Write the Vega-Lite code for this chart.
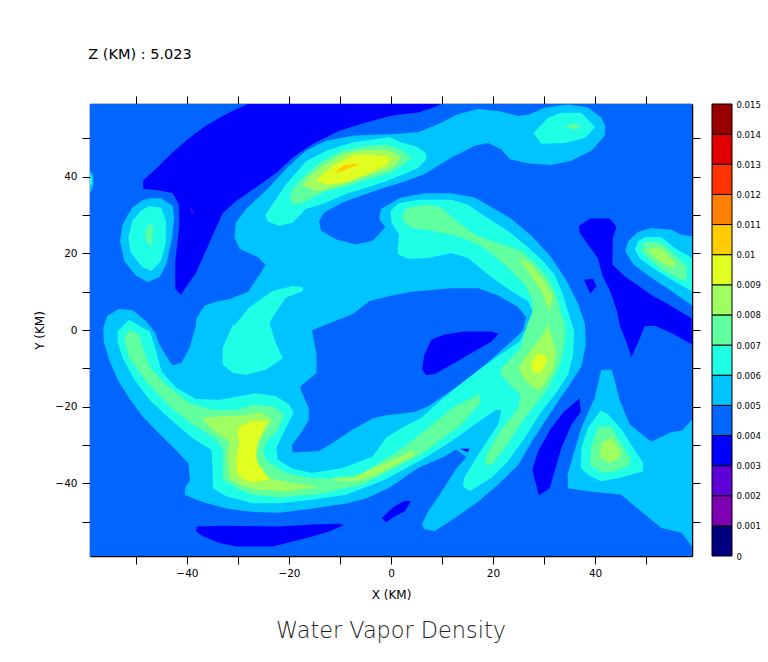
{"$schema":"https://vega.github.io/schema/vega-lite/v6.json","autosize":"none","padding":{"left":90,"top":104,"right":678,"bottom":558},"background":"white","bounds":"flush","spacing":20,"config":{"view":{"stroke":null},"font":"DejaVu Sans"},"hconcat":[{"width":602,"height":452,"resolve":{"axis":{"x":"independent","y":"independent"}},"layer":[{"data":{"values":[
{"poly":"bg","level":0.004,"x":-59,"y":-59},{"poly":"bg","level":0.004,"x":59,"y":-59},{"poly":"bg","level":0.004,"x":59,"y":59},{"poly":"bg","level":0.004,"x":-59,"y":59},
{"poly":"edge5","level":0.005,"x":-59,"y":41.6},{"poly":"edge5","level":0.005,"x":-58.4,"y":40.5},{"poly":"edge5","level":0.005,"x":-58.3,"y":38},{"poly":"edge5","level":0.005,"x":-59,"y":35.6},
{"poly":"big5","level":0.005,"x":-24.6,"y":17},{"poly":"big5","level":0.005,"x":-26.1,"y":19},{"poly":"big5","level":0.005,"x":-29.7,"y":21.2},{"poly":"big5","level":0.005,"x":-30.7,"y":24.2},{"poly":"big5","level":0.005,"x":-30.4,"y":28.1},{"poly":"big5","level":0.005,"x":-28.4,"y":31.6},{"poly":"big5","level":0.005,"x":-24.5,"y":36.4},{"poly":"big5","level":0.005,"x":-20.6,"y":42},{"poly":"big5","level":0.005,"x":-16.7,"y":46.8},{"poly":"big5","level":0.005,"x":-12.7,"y":49.4},{"poly":"big5","level":0.005,"x":-7.5,"y":50.7},{"poly":"big5","level":0.005,"x":-3.6,"y":51},{"poly":"big5","level":0.005,"x":-0.3,"y":51.1},{"poly":"big5","level":0.005,"x":5.3,"y":51.6},{"poly":"big5","level":0.005,"x":9.2,"y":53.7},{"poly":"big5","level":0.005,"x":13.1,"y":56.3},{"poly":"big5","level":0.005,"x":17.1,"y":57.7},{"poly":"big5","level":0.005,"x":21,"y":57.2},{"poly":"big5","level":0.005,"x":24.9,"y":55.9},{"poly":"big5","level":0.005,"x":26.9,"y":56.2},{"poly":"big5","level":0.005,"x":30.1,"y":58},{"poly":"big5","level":0.005,"x":34.7,"y":58.9},{"poly":"big5","level":0.005,"x":38.6,"y":58.1},{"poly":"big5","level":0.005,"x":41.2,"y":55.5},{"poly":"big5","level":0.005,"x":42,"y":53.3},{"poly":"big5","level":0.005,"x":41.9,"y":50.7},{"poly":"big5","level":0.005,"x":39.3,"y":46.8},{"poly":"big5","level":0.005,"x":35.3,"y":44.2},{"poly":"big5","level":0.005,"x":31.4,"y":43.1},{"poly":"big5","level":0.005,"x":26.8,"y":43.5},{"poly":"big5","level":0.005,"x":23.3,"y":44.6},{"poly":"big5","level":0.005,"x":21.6,"y":47.2},{"poly":"big5","level":0.005,"x":19,"y":48.8},{"poly":"big5","level":0.005,"x":16.4,"y":48.1},{"poly":"big5","level":0.005,"x":11.8,"y":45},{"poly":"big5","level":0.005,"x":6.6,"y":40.7},{"poly":"big5","level":0.005,"x":2.7,"y":38.8},{"poly":"big5","level":0.005,"x":-1.2,"y":37.2},{"poly":"big5","level":0.005,"x":-4.9,"y":35.5},{"poly":"big5","level":0.005,"x":-9.5,"y":33.3},{"poly":"big5","level":0.005,"x":-13.1,"y":30.7},{"poly":"big5","level":0.005,"x":-14.1,"y":28.5},{"poly":"big5","level":0.005,"x":-13.7,"y":25.9},{"poly":"big5","level":0.005,"x":-10.8,"y":23.7},{"poly":"big5","level":0.005,"x":-6.9,"y":22.3},{"poly":"big5","level":0.005,"x":-3.6,"y":23.3},{"poly":"big5","level":0.005,"x":-1.1,"y":26.8},{"poly":"big5","level":0.005,"x":-2.3,"y":29},{"poly":"big5","level":0.005,"x":-2,"y":31.6},{"poly":"big5","level":0.005,"x":-0.3,"y":32.9},{"poly":"big5","level":0.005,"x":2,"y":34.6},{"poly":"big5","level":0.005,"x":6.6,"y":35.7},{"poly":"big5","level":0.005,"x":11.8,"y":35.7},{"poly":"big5","level":0.005,"x":16.4,"y":34.6},{"poly":"big5","level":0.005,"x":20.3,"y":31.6},{"poly":"big5","level":0.005,"x":23.6,"y":29},{"poly":"big5","level":0.005,"x":27.5,"y":24.6},{"poly":"big5","level":0.005,"x":31.4,"y":19},{"poly":"big5","level":0.005,"x":34.4,"y":12.9},{"poly":"big5","level":0.005,"x":36.7,"y":6.8},{"poly":"big5","level":0.005,"x":38,"y":1.6},{"poly":"big5","level":0.005,"x":38.2,"y":-3.8},{"poly":"big5","level":0.005,"x":37.3,"y":-9.6},{"poly":"big5","level":0.005,"x":35,"y":-14.3},{"poly":"big5","level":0.005,"x":32.7,"y":-18.7},{"poly":"big5","level":0.005,"x":30.1,"y":-24},{"poly":"big5","level":0.005,"x":27.5,"y":-29.3},{"poly":"big5","level":0.005,"x":25,"y":-35.1},{"poly":"big5","level":0.005,"x":21,"y":-40.4},{"poly":"big5","level":0.005,"x":17.1,"y":-44.8},{"poly":"big5","level":0.005,"x":12.8,"y":-48.8},{"poly":"big5","level":0.005,"x":8.6,"y":-52.5},{"poly":"big5","level":0.005,"x":6.6,"y":-52},{"poly":"big5","level":0.005,"x":6,"y":-50.8},{"poly":"big5","level":0.005,"x":7.3,"y":-47.4},{"poly":"big5","level":0.005,"x":9.9,"y":-42.2},{"poly":"big5","level":0.005,"x":12.9,"y":-36},{"poly":"big5","level":0.005,"x":14.8,"y":-33.2},{"poly":"big5","level":0.005,"x":12.8,"y":-31.2},{"poly":"big5","level":0.005,"x":10.5,"y":-33},{"poly":"big5","level":0.005,"x":5.3,"y":-36},{"poly":"big5","level":0.005,"x":-0.3,"y":-41.2},{"poly":"big5","level":0.005,"x":-4.9,"y":-44},{"poly":"big5","level":0.005,"x":-8.8,"y":-45.3},{"poly":"big5","level":0.005,"x":-15.3,"y":-46.6},{"poly":"big5","level":0.005,"x":-21.8,"y":-47.7},{"poly":"big5","level":0.005,"x":-27,"y":-47.5},{"poly":"big5","level":0.005,"x":-32.3,"y":-46.6},{"poly":"big5","level":0.005,"x":-36.9,"y":-44.9},{"poly":"big5","level":0.005,"x":-40.4,"y":-43.1},{"poly":"big5","level":0.005,"x":-40.3,"y":-41},{"poly":"big5","level":0.005,"x":-39.4,"y":-39.2},{"poly":"big5","level":0.005,"x":-39.7,"y":-34.9},{"poly":"big5","level":0.005,"x":-42.1,"y":-31.4},{"poly":"big5","level":0.005,"x":-45.4,"y":-27.1},{"poly":"big5","level":0.005,"x":-48.6,"y":-22.7},{"poly":"big5","level":0.005,"x":-51.2,"y":-18},{"poly":"big5","level":0.005,"x":-53.5,"y":-13.2},{"poly":"big5","level":0.005,"x":-55.1,"y":-8.3},{"poly":"big5","level":0.005,"x":-56.3,"y":-3.1},{"poly":"big5","level":0.005,"x":-56.4,"y":0.6},{"poly":"big5","level":0.005,"x":-55.6,"y":3.7},{"poly":"big5","level":0.005,"x":-53.3,"y":5.5},{"poly":"big5","level":0.005,"x":-50.7,"y":5.2},{"poly":"big5","level":0.005,"x":-48,"y":2.3},{"poly":"big5","level":0.005,"x":-46.2,"y":-0.7},{"poly":"big5","level":0.005,"x":-45.4,"y":-3.8},{"poly":"big5","level":0.005,"x":-43.4,"y":-8.2},{"poly":"big5","level":0.005,"x":-42.8,"y":-9.2},{"poly":"big5","level":0.005,"x":-41.1,"y":-8.6},{"poly":"big5","level":0.005,"x":-39.5,"y":-4.7},{"poly":"big5","level":0.005,"x":-38.2,"y":1.4},{"poly":"big5","level":0.005,"x":-38.2,"y":2.9},{"poly":"big5","level":0.005,"x":-36.6,"y":6.3},{"poly":"big5","level":0.005,"x":-34.3,"y":7.4},{"poly":"big5","level":0.005,"x":-31.7,"y":8},{"poly":"big5","level":0.005,"x":-28,"y":10},{"poly":"big5","level":0.005,"x":-25.5,"y":15},
{"poly":"hole4","level":0.004,"x":-15.4,"y":0},{"poly":"hole4","level":0.004,"x":-7.5,"y":4.2},{"poly":"hole4","level":0.004,"x":-4.2,"y":7.6},{"poly":"hole4","level":0.004,"x":-0.3,"y":8.9},{"poly":"hole4","level":0.004,"x":4,"y":10},{"poly":"hole4","level":0.004,"x":11.8,"y":10.9},{"poly":"hole4","level":0.004,"x":17.1,"y":10.9},{"poly":"hole4","level":0.004,"x":21,"y":9},{"poly":"hole4","level":0.004,"x":24.9,"y":6},{"poly":"hole4","level":0.004,"x":26.5,"y":3.3},{"poly":"hole4","level":0.004,"x":25.8,"y":-0.3},{"poly":"hole4","level":0.004,"x":23.6,"y":-3},{"poly":"hole4","level":0.004,"x":17.7,"y":-10},{"poly":"hole4","level":0.004,"x":12.5,"y":-15.2},{"poly":"hole4","level":0.004,"x":7.2,"y":-20},{"poly":"hole4","level":0.004,"x":4.6,"y":-21.4},{"poly":"hole4","level":0.004,"x":-1.2,"y":-22.3},{"poly":"hole4","level":0.004,"x":-3.6,"y":-23.1},{"poly":"hole4","level":0.004,"x":-7.5,"y":-26},{"poly":"hole4","level":0.004,"x":-12.1,"y":-30},{"poly":"hole4","level":0.004,"x":-14.1,"y":-31.6},{"poly":"hole4","level":0.004,"x":-19.3,"y":-32},{"poly":"hole4","level":0.004,"x":-19.4,"y":-30},{"poly":"hole4","level":0.004,"x":-17.7,"y":-27},{"poly":"hole4","level":0.004,"x":-16.1,"y":-23.4},{"poly":"hole4","level":0.004,"x":-16.1,"y":-20.4},{"poly":"hole4","level":0.004,"x":-17.7,"y":-15.6},{"poly":"hole4","level":0.004,"x":-17.7,"y":-14.7},{"poly":"hole4","level":0.004,"x":-14.6,"y":-11.2},{"poly":"hole4","level":0.004,"x":-14.6,"y":-6.4},{"poly":"hole4","level":0.004,"x":-15.4,"y":-0.8},
{"poly":"d1","level":0.003,"x":-28.1,"y":59},{"poly":"d1","level":0.003,"x":9.9,"y":59},{"poly":"d1","level":0.003,"x":8.6,"y":58.2},{"poly":"d1","level":0.003,"x":5.3,"y":56.8},{"poly":"d1","level":0.003,"x":1.4,"y":56.2},{"poly":"d1","level":0.003,"x":-0.3,"y":55.8},{"poly":"d1","level":0.003,"x":-4.9,"y":54.2},{"poly":"d1","level":0.003,"x":-10.1,"y":52},{"poly":"d1","level":0.003,"x":-15.4,"y":48.5},{"poly":"d1","level":0.003,"x":-19.3,"y":45},{"poly":"d1","level":0.003,"x":-22.5,"y":41},{"poly":"d1","level":0.003,"x":-26.5,"y":37.2},{"poly":"d1","level":0.003,"x":-30.4,"y":33.6},{"poly":"d1","level":0.003,"x":-33,"y":30.5},{"poly":"d1","level":0.003,"x":-34.6,"y":25.7},{"poly":"d1","level":0.003,"x":-36.6,"y":19.8},{"poly":"d1","level":0.003,"x":-38.2,"y":15},{"poly":"d1","level":0.003,"x":-41.2,"y":9.2},{"poly":"d1","level":0.003,"x":-42.3,"y":10.7},{"poly":"d1","level":0.003,"x":-42.3,"y":18},{"poly":"d1","level":0.003,"x":-41.5,"y":26.9},{"poly":"d1","level":0.003,"x":-41.6,"y":32.9},{"poly":"d1","level":0.003,"x":-42.8,"y":35.7},{"poly":"d1","level":0.003,"x":-45.4,"y":36.4},{"poly":"d1","level":0.003,"x":-48.6,"y":36.9},{"poly":"d1","level":0.003,"x":-48.6,"y":39},{"poly":"d1","level":0.003,"x":-46.1,"y":42},{"poly":"d1","level":0.003,"x":-43.1,"y":46},{"poly":"d1","level":0.003,"x":-39.5,"y":50.2},{"poly":"d1","level":0.003,"x":-36.3,"y":53.3},{"poly":"d1","level":0.003,"x":-32.4,"y":56.3},
{"poly":"d2","level":0.003,"x":7.9,"y":-2.5},{"poly":"d2","level":0.003,"x":10.5,"y":-1.2},{"poly":"d2","level":0.003,"x":14.4,"y":-0.4},{"poly":"d2","level":0.003,"x":19.7,"y":-0.4},{"poly":"d2","level":0.003,"x":21.1,"y":-1},{"poly":"d2","level":0.003,"x":19.7,"y":-3},{"poly":"d2","level":0.003,"x":15.1,"y":-6.5},{"poly":"d2","level":0.003,"x":11.8,"y":-9.1},{"poly":"d2","level":0.003,"x":8.6,"y":-11.5},{"poly":"d2","level":0.003,"x":6.9,"y":-11.8},{"poly":"d2","level":0.003,"x":6.1,"y":-10.4},{"poly":"d2","level":0.003,"x":6.5,"y":-6.5},
{"poly":"d3","level":0.003,"x":-38.1,"y":-51.3},{"poly":"d3","level":0.003,"x":-33,"y":-51.1},{"poly":"d3","level":0.003,"x":-21.9,"y":-51.3},{"poly":"d3","level":0.003,"x":-15.4,"y":-50.8},{"poly":"d3","level":0.003,"x":-10.1,"y":-50.6},{"poly":"d3","level":0.003,"x":-9.2,"y":-50.9},{"poly":"d3","level":0.003,"x":-12.1,"y":-52.6},{"poly":"d3","level":0.003,"x":-15.4,"y":-53.9},{"poly":"d3","level":0.003,"x":-19.3,"y":-55.2},{"poly":"d3","level":0.003,"x":-23.1,"y":-56.5},{"poly":"d3","level":0.003,"x":-30.3,"y":-56.5},{"poly":"d3","level":0.003,"x":-33.6,"y":-55.6},{"poly":"d3","level":0.003,"x":-36.8,"y":-53.9},{"poly":"d3","level":0.003,"x":-38.2,"y":-52.6},
{"poly":"d4","level":0.003,"x":-1.8,"y":-49.1},{"poly":"d4","level":0.003,"x":-0.3,"y":-47.2},{"poly":"d4","level":0.003,"x":0.7,"y":-46},{"poly":"d4","level":0.003,"x":2.8,"y":-44.6},{"poly":"d4","level":0.003,"x":3.9,"y":-44.7},{"poly":"d4","level":0.003,"x":2.7,"y":-47.3},{"poly":"d4","level":0.003,"x":0.7,"y":-48.7},{"poly":"d4","level":0.003,"x":-0.9,"y":-50.1},{"poly":"d4","level":0.003,"x":-1,"y":-50.2},
{"poly":"d5","level":0.003,"x":37,"y":-17.8},{"poly":"d5","level":0.003,"x":37.2,"y":-21.4},{"poly":"d5","level":0.003,"x":35.4,"y":-24.7},{"poly":"d5","level":0.003,"x":33.4,"y":-30.8},{"poly":"d5","level":0.003,"x":31.1,"y":-41.3},{"poly":"d5","level":0.003,"x":29,"y":-43.2},{"poly":"d5","level":0.003,"x":27.7,"y":-36.5},{"poly":"d5","level":0.003,"x":28.8,"y":-31.7},{"poly":"d5","level":0.003,"x":31.4,"y":-25.6},{"poly":"d5","level":0.003,"x":34,"y":-21.2},
{"poly":"d6","level":0.003,"x":36.8,"y":27.1},{"poly":"d6","level":0.003,"x":39,"y":29.1},{"poly":"d6","level":0.003,"x":42.9,"y":29.1},{"poly":"d6","level":0.003,"x":44.2,"y":26.9},{"poly":"d6","level":0.003,"x":43.5,"y":24},{"poly":"d6","level":0.003,"x":43.4,"y":17.1},{"poly":"d6","level":0.003,"x":45.8,"y":14},{"poly":"d6","level":0.003,"x":51,"y":9.2},{"poly":"d6","level":0.003,"x":55,"y":6.2},{"poly":"d6","level":0.003,"x":58.9,"y":3.1},{"poly":"d6","level":0.003,"x":59,"y":-3.8},{"poly":"d6","level":0.003,"x":55,"y":-0.8},{"poly":"d6","level":0.003,"x":51.7,"y":1.1},{"poly":"d6","level":0.003,"x":49.7,"y":1},{"poly":"d6","level":0.003,"x":48.8,"y":-2.1},{"poly":"d6","level":0.003,"x":47.1,"y":-7.1},{"poly":"d6","level":0.003,"x":46.1,"y":-3},{"poly":"d6","level":0.003,"x":44.8,"y":1.4},{"poly":"d6","level":0.003,"x":44.3,"y":4.9},{"poly":"d6","level":0.003,"x":43,"y":10},{"poly":"d6","level":0.003,"x":41.4,"y":14.4},{"poly":"d6","level":0.003,"x":40.5,"y":18.8},{"poly":"d6","level":0.003,"x":38.6,"y":22.3},{"poly":"d6","level":0.003,"x":37,"y":25.3},
{"poly":"d7","level":0.003,"x":37.8,"y":13.1},{"poly":"d7","level":0.003,"x":39.6,"y":13.4},{"poly":"d7","level":0.003,"x":40.3,"y":11.4},{"poly":"d7","level":0.003,"x":39.1,"y":9.5},{"poly":"d7","level":0.003,"x":38.5,"y":11},
{"poly":"d8","level":0.003,"x":13.5,"y":-31},{"poly":"d8","level":0.003,"x":15.4,"y":-31},{"poly":"d8","level":0.003,"x":15,"y":-31.9},
{"poly":"p1","level":0.002,"x":-39.2,"y":32.2},{"poly":"p1","level":0.002,"x":-38.5,"y":30.6},{"poly":"p1","level":0.002,"x":-39.2,"y":30.5},
{"poly":"left5","level":0.005,"x":-47.1,"y":34.4},{"poly":"left5","level":0.005,"x":-45.1,"y":34.4},{"poly":"left5","level":0.005,"x":-42.8,"y":32.4},{"poly":"left5","level":0.005,"x":-42.5,"y":29.4},{"poly":"left5","level":0.005,"x":-42.9,"y":24.2},{"poly":"left5","level":0.005,"x":-44,"y":17.2},{"poly":"left5","level":0.005,"x":-45.4,"y":13.8},{"poly":"left5","level":0.005,"x":-47.7,"y":12.5},{"poly":"left5","level":0.005,"x":-50,"y":14.2},{"poly":"left5","level":0.005,"x":-52.3,"y":18},{"poly":"left5","level":0.005,"x":-53.1,"y":23.3},{"poly":"left5","level":0.005,"x":-52.6,"y":27.6},{"poly":"left5","level":0.005,"x":-50.7,"y":32},{"poly":"left5","level":0.005,"x":-48.7,"y":33.9},
{"poly":"ur5","level":0.005,"x":59,"y":24.5},{"poly":"ur5","level":0.005,"x":57,"y":24.8},{"poly":"ur5","level":0.005,"x":55,"y":26.2},{"poly":"ur5","level":0.005,"x":51,"y":26.6},{"poly":"ur5","level":0.005,"x":48.4,"y":25.6},{"poly":"ur5","level":0.005,"x":46.5,"y":23.2},{"poly":"ur5","level":0.005,"x":45.9,"y":20.6},{"poly":"ur5","level":0.005,"x":47.5,"y":17.1},{"poly":"ur5","level":0.005,"x":51.1,"y":13.6},{"poly":"ur5","level":0.005,"x":55,"y":10.1},{"poly":"ur5","level":0.005,"x":59,"y":6.4},
{"poly":"se5","level":0.005,"x":41.2,"y":-10.4},{"poly":"se5","level":0.005,"x":43.3,"y":-10.4},{"poly":"se5","level":0.005,"x":44.8,"y":-18.2},{"poly":"se5","level":0.005,"x":46.8,"y":-24.7},{"poly":"se5","level":0.005,"x":51,"y":-29.2},{"poly":"se5","level":0.005,"x":55,"y":-26.6},{"poly":"se5","level":0.005,"x":57,"y":-26.3},{"poly":"se5","level":0.005,"x":59,"y":-23.4},{"poly":"se5","level":0.005,"x":59,"y":-56.5},{"poly":"se5","level":0.005,"x":57,"y":-53},{"poly":"se5","level":0.005,"x":53,"y":-51.7},{"poly":"se5","level":0.005,"x":49,"y":-47.3},{"poly":"se5","level":0.005,"x":45.1,"y":-43},{"poly":"se5","level":0.005,"x":38.6,"y":-42.1},{"poly":"se5","level":0.005,"x":34.7,"y":-41.3},{"poly":"se5","level":0.005,"x":34.6,"y":-37.8},{"poly":"se5","level":0.005,"x":37.3,"y":-25.6},{"poly":"se5","level":0.005,"x":39.9,"y":-17.8},
{"poly":"edge6","level":0.006,"x":-59,"y":40.6},{"poly":"edge6","level":0.006,"x":-58.6,"y":39.5},{"poly":"edge6","level":0.006,"x":-58.6,"y":38.4},{"poly":"edge6","level":0.006,"x":-59,"y":37.6},
{"poly":"left6","level":0.006,"x":-47.4,"y":32.4},{"poly":"left6","level":0.006,"x":-45.1,"y":32},{"poly":"left6","level":0.006,"x":-44.1,"y":28.5},{"poly":"left6","level":0.006,"x":-44.2,"y":22.4},{"poly":"left6","level":0.006,"x":-45.1,"y":18},{"poly":"left6","level":0.006,"x":-46.9,"y":15.5},{"poly":"left6","level":0.006,"x":-48.7,"y":16.3},{"poly":"left6","level":0.006,"x":-51,"y":20.3},{"poly":"left6","level":0.006,"x":-51.5,"y":24.2},{"poly":"left6","level":0.006,"x":-50.7,"y":28.5},{"poly":"left6","level":0.006,"x":-49,"y":31.1},
{"poly":"tr6","level":0.006,"x":27.9,"y":51.4},{"poly":"tr6","level":0.006,"x":30.8,"y":55.4},{"poly":"tr6","level":0.006,"x":33.4,"y":56.7},{"poly":"tr6","level":0.006,"x":37.3,"y":56.7},{"poly":"tr6","level":0.006,"x":40,"y":52.9},{"poly":"tr6","level":0.006,"x":38,"y":50.1},{"poly":"tr6","level":0.006,"x":34.1,"y":48.8},{"poly":"tr6","level":0.006,"x":29.5,"y":48.6},
{"poly":"ur6","level":0.006,"x":49.8,"y":24.3},{"poly":"ur6","level":0.006,"x":53,"y":24.3},{"poly":"ur6","level":0.006,"x":55.6,"y":21.4},{"poly":"ur6","level":0.006,"x":59,"y":18.8},{"poly":"ur6","level":0.006,"x":59,"y":10.1},{"poly":"ur6","level":0.006,"x":55,"y":13.1},{"poly":"ur6","level":0.006,"x":51.7,"y":15.8},{"poly":"ur6","level":0.006,"x":48.7,"y":18.8},{"poly":"ur6","level":0.006,"x":47.8,"y":21},{"poly":"ur6","level":0.006,"x":48.4,"y":23.2},
{"poly":"band6","level":0.006,"x":-24.6,"y":30.1},{"poly":"band6","level":0.006,"x":-20.6,"y":38},{"poly":"band6","level":0.006,"x":-16.7,"y":44},{"poly":"band6","level":0.006,"x":-12.7,"y":46.8},{"poly":"band6","level":0.006,"x":-7.5,"y":49},{"poly":"band6","level":0.006,"x":-0.3,"y":50.3},{"poly":"band6","level":0.006,"x":2,"y":49},{"poly":"band6","level":0.006,"x":5.3,"y":47.7},{"poly":"band6","level":0.006,"x":6.9,"y":46},{"poly":"band6","level":0.006,"x":6.9,"y":44.5},{"poly":"band6","level":0.006,"x":5.3,"y":42.3},{"poly":"band6","level":0.006,"x":2.7,"y":40.8},{"poly":"band6","level":0.006,"x":-1.2,"y":38.7},{"poly":"band6","level":0.006,"x":-8.8,"y":35.5},{"poly":"band6","level":0.006,"x":-13.4,"y":32.9},{"poly":"band6","level":0.006,"x":-16.7,"y":31.6},{"poly":"band6","level":0.006,"x":-19.3,"y":28},{"poly":"band6","level":0.006,"x":-22,"y":27.2},{"poly":"band6","level":0.006,"x":-24.2,"y":28.4},
{"poly":"mid6","level":0.006,"x":-31,"y":1.4},{"poly":"mid6","level":0.006,"x":-33,"y":-4.7},{"poly":"mid6","level":0.006,"x":-33,"y":-9},{"poly":"mid6","level":0.006,"x":-31,"y":-11.2},{"poly":"mid6","level":0.006,"x":-28.4,"y":-11.7},{"poly":"mid6","level":0.006,"x":-24.5,"y":-10.4},{"poly":"mid6","level":0.006,"x":-21.2,"y":-7.3},{"poly":"mid6","level":0.006,"x":-22.6,"y":-3.4},{"poly":"mid6","level":0.006,"x":-23.7,"y":1.4},{"poly":"mid6","level":0.006,"x":-23.7,"y":2.3},{"poly":"mid6","level":0.006,"x":-20.6,"y":8.5},{"poly":"mid6","level":0.006,"x":-17.2,"y":10.2},{"poly":"mid6","level":0.006,"x":-17.3,"y":11.2},{"poly":"mid6","level":0.006,"x":-19.3,"y":11.5},{"poly":"mid6","level":0.006,"x":-23.2,"y":10.2},{"poly":"mid6","level":0.006,"x":-27.8,"y":5.9},{"poly":"mid6","level":0.006,"x":-30.7,"y":1.2},
{"poly":"se6","level":0.006,"x":41.1,"y":-21},{"poly":"se6","level":0.006,"x":42.5,"y":-22},{"poly":"se6","level":0.006,"x":45.2,"y":-26},{"poly":"se6","level":0.006,"x":49.4,"y":-34.7},{"poly":"se6","level":0.006,"x":49.4,"y":-36.9},{"poly":"se6","level":0.006,"x":44.5,"y":-38.7},{"poly":"se6","level":0.006,"x":41.2,"y":-39.5},{"poly":"se6","level":0.006,"x":38.6,"y":-37.8},{"poly":"se6","level":0.006,"x":37.2,"y":-36},{"poly":"se6","level":0.006,"x":37.3,"y":-30.8},{"poly":"se6","level":0.006,"x":38.6,"y":-25.6},
{"poly":"arc6","level":0.006,"x":-0.1,"y":31},{"poly":"arc6","level":0.006,"x":1.4,"y":33},{"poly":"arc6","level":0.006,"x":5.3,"y":34},{"poly":"arc6","level":0.006,"x":11.8,"y":34},{"poly":"arc6","level":0.006,"x":15.1,"y":32.7},{"poly":"arc6","level":0.006,"x":18.4,"y":29.7},{"poly":"arc6","level":0.006,"x":23,"y":25.8},{"poly":"arc6","level":0.006,"x":26.2,"y":22.3},{"poly":"arc6","level":0.006,"x":29.5,"y":18.4},{"poly":"arc6","level":0.006,"x":32.1,"y":14.4},{"poly":"arc6","level":0.006,"x":33.7,"y":9.2},{"poly":"arc6","level":0.006,"x":34.9,"y":4},{"poly":"arc6","level":0.006,"x":35.9,"y":-0.4},{"poly":"arc6","level":0.006,"x":35.7,"y":-6.4},{"poly":"arc6","level":0.006,"x":34.7,"y":-11.7},{"poly":"arc6","level":0.006,"x":32.1,"y":-16.9},{"poly":"arc6","level":0.006,"x":29.5,"y":-21.2},{"poly":"arc6","level":0.006,"x":26.2,"y":-28.2},{"poly":"arc6","level":0.006,"x":22.9,"y":-34.3},{"poly":"arc6","level":0.006,"x":19.7,"y":-38.6},{"poly":"arc6","level":0.006,"x":15.4,"y":-42.1},{"poly":"arc6","level":0.006,"x":14.1,"y":-40.8},{"poly":"arc6","level":0.006,"x":14.3,"y":-38.7},{"poly":"arc6","level":0.006,"x":17.1,"y":-32.5},{"poly":"arc6","level":0.006,"x":21,"y":-24.7},{"poly":"arc6","level":0.006,"x":21.6,"y":-21.1},{"poly":"arc6","level":0.006,"x":20.6,"y":-20.8},{"poly":"arc6","level":0.006,"x":16.4,"y":-24.7},{"poly":"arc6","level":0.006,"x":11.8,"y":-29.1},{"poly":"arc6","level":0.006,"x":6.6,"y":-33.4},{"poly":"arc6","level":0.006,"x":-1.2,"y":-39.1},{"poly":"arc6","level":0.006,"x":-8.8,"y":-43},{"poly":"arc6","level":0.006,"x":-15.4,"y":-44.3},{"poly":"arc6","level":0.006,"x":-21.9,"y":-45.2},{"poly":"arc6","level":0.006,"x":-27.1,"y":-45.2},{"poly":"arc6","level":0.006,"x":-32.3,"y":-43.4},{"poly":"arc6","level":0.006,"x":-34.9,"y":-41.3},{"poly":"arc6","level":0.006,"x":-35,"y":-35.2},{"poly":"arc6","level":0.006,"x":-35.2,"y":-31.3},{"poly":"arc6","level":0.006,"x":-38.9,"y":-28.2},{"poly":"arc6","level":0.006,"x":-42.8,"y":-23.8},{"poly":"arc6","level":0.006,"x":-47.1,"y":-18.6},{"poly":"arc6","level":0.006,"x":-50.3,"y":-13},{"poly":"arc6","level":0.006,"x":-52.6,"y":-7.3},{"poly":"arc6","level":0.006,"x":-53.6,"y":-3},{"poly":"arc6","level":0.006,"x":-53.6,"y":-0.3},{"poly":"arc6","level":0.006,"x":-51.3,"y":2.7},{"poly":"arc6","level":0.006,"x":-48.7,"y":0.6},{"poly":"arc6","level":0.006,"x":-47.3,"y":-0.3},{"poly":"arc6","level":0.006,"x":-46,"y":-5.6},{"poly":"arc6","level":0.006,"x":-45,"y":-10.8},{"poly":"arc6","level":0.006,"x":-42.1,"y":-15.1},{"poly":"arc6","level":0.006,"x":-38.2,"y":-18},{"poly":"arc6","level":0.006,"x":-33.6,"y":-18.2},{"poly":"arc6","level":0.006,"x":-29.7,"y":-17.3},{"poly":"arc6","level":0.006,"x":-26.4,"y":-16.5},{"poly":"arc6","level":0.006,"x":-22.5,"y":-17.3},{"poly":"arc6","level":0.006,"x":-19.9,"y":-19.5},{"poly":"arc6","level":0.006,"x":-19.1,"y":-21.7},{"poly":"arc6","level":0.006,"x":-20.6,"y":-25.6},{"poly":"arc6","level":0.006,"x":-22.5,"y":-30.8},{"poly":"arc6","level":0.006,"x":-22.2,"y":-33.8},{"poly":"arc6","level":0.006,"x":-19.3,"y":-36.2},{"poly":"arc6","level":0.006,"x":-15.4,"y":-37.3},{"poly":"arc6","level":0.006,"x":-9.5,"y":-36},{"poly":"arc6","level":0.006,"x":-3.6,"y":-33},{"poly":"arc6","level":0.006,"x":-1,"y":-28.2},{"poly":"arc6","level":0.006,"x":2,"y":-25.6},{"poly":"arc6","level":0.006,"x":5.9,"y":-23},{"poly":"arc6","level":0.006,"x":9.2,"y":-19},{"poly":"arc6","level":0.006,"x":13.1,"y":-14.7},{"poly":"arc6","level":0.006,"x":17.7,"y":-9.9},{"poly":"arc6","level":0.006,"x":21.3,"y":-6.5},{"poly":"arc6","level":0.006,"x":25.2,"y":-3},{"poly":"arc6","level":0.006,"x":26.2,"y":-0.4},{"poly":"arc6","level":0.006,"x":27.5,"y":1.4},{"poly":"arc6","level":0.006,"x":28,"y":4},{"poly":"arc6","level":0.006,"x":26.9,"y":7.5},{"poly":"arc6","level":0.006,"x":23.6,"y":10.1},{"poly":"arc6","level":0.006,"x":19,"y":14.5},{"poly":"arc6","level":0.006,"x":15.1,"y":18.8},{"poly":"arc6","level":0.006,"x":11.8,"y":20.1},{"poly":"arc6","level":0.006,"x":7.3,"y":18.8},{"poly":"arc6","level":0.006,"x":3.4,"y":18.6},{"poly":"arc6","level":0.006,"x":1.4,"y":19.7},{"poly":"arc6","level":0.006,"x":1.3,"y":21},{"poly":"arc6","level":0.006,"x":1.6,"y":24.9},{"poly":"arc6","level":0.006,"x":0.1,"y":28},
{"poly":"left7","level":0.007,"x":-47.4,"y":27.9},{"poly":"left7","level":0.007,"x":-46.6,"y":27},{"poly":"left7","level":0.007,"x":-47,"y":21.8},{"poly":"left7","level":0.007,"x":-48,"y":23.3},{"poly":"left7","level":0.007,"x":-48.2,"y":25},
{"poly":"tr7","level":0.007,"x":34,"y":53.2},{"poly":"tr7","level":0.007,"x":36,"y":53.9},{"poly":"tr7","level":0.007,"x":37.3,"y":53},{"poly":"tr7","level":0.007,"x":36,"y":52.3},
{"poly":"ur7","level":0.007,"x":50.7,"y":23.2},{"poly":"ur7","level":0.007,"x":53,"y":22.7},{"poly":"ur7","level":0.007,"x":56.3,"y":18.8},{"poly":"ur7","level":0.007,"x":58,"y":16.6},{"poly":"ur7","level":0.007,"x":57.9,"y":12.7},{"poly":"ur7","level":0.007,"x":56.3,"y":13.4},{"poly":"ur7","level":0.007,"x":53,"y":15.8},{"poly":"ur7","level":0.007,"x":50.4,"y":18.8},{"poly":"ur7","level":0.007,"x":49,"y":21},{"poly":"ur7","level":0.007,"x":49.6,"y":22.7},
{"poly":"band7","level":0.007,"x":-19.9,"y":34.5},{"poly":"band7","level":0.007,"x":-19.3,"y":32.8},{"poly":"band7","level":0.007,"x":-17.3,"y":33.2},{"poly":"band7","level":0.007,"x":-12.7,"y":36.2},{"poly":"band7","level":0.007,"x":-8.8,"y":37.5},{"poly":"band7","level":0.007,"x":-4.9,"y":39.2},{"poly":"band7","level":0.007,"x":-0.3,"y":41},{"poly":"band7","level":0.007,"x":2,"y":42.7},{"poly":"band7","level":0.007,"x":4,"y":45},{"poly":"band7","level":0.007,"x":2,"y":47.1},{"poly":"band7","level":0.007,"x":-1.2,"y":48.4},{"poly":"band7","level":0.007,"x":-4.9,"y":48},{"poly":"band7","level":0.007,"x":-9.5,"y":46.8},{"poly":"band7","level":0.007,"x":-14.1,"y":43.6},{"poly":"band7","level":0.007,"x":-17.4,"y":39.7},{"poly":"band7","level":0.007,"x":-19.3,"y":36.7},
{"poly":"se7","level":0.007,"x":40.6,"y":-25.2},{"poly":"se7","level":0.007,"x":43.2,"y":-25.2},{"poly":"se7","level":0.007,"x":46.8,"y":-33.4},{"poly":"se7","level":0.007,"x":46.8,"y":-35.2},{"poly":"se7","level":0.007,"x":43.9,"y":-36.9},{"poly":"se7","level":0.007,"x":41.6,"y":-37.3},{"poly":"se7","level":0.007,"x":39,"y":-35.2},{"poly":"se7","level":0.007,"x":39.2,"y":-30.8},
{"poly":"ne7","level":0.007,"x":2.2,"y":30.1},{"poly":"ne7","level":0.007,"x":3.3,"y":31.9},{"poly":"ne7","level":0.007,"x":7.3,"y":32.7},{"poly":"ne7","level":0.007,"x":9.9,"y":31.9},{"poly":"ne7","level":0.007,"x":12.5,"y":28.8},{"poly":"ne7","level":0.007,"x":16.4,"y":24.9},{"poly":"ne7","level":0.007,"x":21,"y":22.7},{"poly":"ne7","level":0.007,"x":25.6,"y":20.6},{"poly":"ne7","level":0.007,"x":28.2,"y":17.5},{"poly":"ne7","level":0.007,"x":30.8,"y":13.6},{"poly":"ne7","level":0.007,"x":32.4,"y":9.2},{"poly":"ne7","level":0.007,"x":33.4,"y":4},{"poly":"ne7","level":0.007,"x":34.1,"y":1.4},{"poly":"ne7","level":0.007,"x":34.1,"y":-3},{"poly":"ne7","level":0.007,"x":33.1,"y":-9},{"poly":"ne7","level":0.007,"x":30.8,"y":-15.2},{"poly":"ne7","level":0.007,"x":26.2,"y":-23},{"poly":"ne7","level":0.007,"x":22.3,"y":-30.8},{"poly":"ne7","level":0.007,"x":19.7,"y":-35.2},{"poly":"ne7","level":0.007,"x":18.7,"y":-35.2},{"poly":"ne7","level":0.007,"x":18.4,"y":-33.4},{"poly":"ne7","level":0.007,"x":21.3,"y":-26.5},{"poly":"ne7","level":0.007,"x":24.9,"y":-20.4},{"poly":"ne7","level":0.007,"x":25.4,"y":-16.9},{"poly":"ne7","level":0.007,"x":22.9,"y":-13.8},{"poly":"ne7","level":0.007,"x":21.5,"y":-11.7},{"poly":"ne7","level":0.007,"x":21.6,"y":-10},{"poly":"ne7","level":0.007,"x":25.4,"y":-4.7},{"poly":"ne7","level":0.007,"x":26.7,"y":1.4},{"poly":"ne7","level":0.007,"x":27.8,"y":4.9},{"poly":"ne7","level":0.007,"x":27.8,"y":7.5},{"poly":"ne7","level":0.007,"x":26.2,"y":11.9},{"poly":"ne7","level":0.007,"x":22.3,"y":17.1},{"poly":"ne7","level":0.007,"x":19,"y":20.6},{"poly":"ne7","level":0.007,"x":17.1,"y":22.3},{"poly":"ne7","level":0.007,"x":13.1,"y":24.5},{"poly":"ne7","level":0.007,"x":7.3,"y":26.2},{"poly":"ne7","level":0.007,"x":4,"y":26.6},{"poly":"ne7","level":0.007,"x":2.7,"y":28},
{"poly":"arc7","level":0.007,"x":-51.3,"y":0.1},{"poly":"arc7","level":0.007,"x":-49.4,"y":-1.2},{"poly":"arc7","level":0.007,"x":-48.4,"y":-5.6},{"poly":"arc7","level":0.007,"x":-47.1,"y":-10},{"poly":"arc7","level":0.007,"x":-44.1,"y":-14.3},{"poly":"arc7","level":0.007,"x":-39.5,"y":-19.1},{"poly":"arc7","level":0.007,"x":-34.9,"y":-20.8},{"poly":"arc7","level":0.007,"x":-30.3,"y":-20.8},{"poly":"arc7","level":0.007,"x":-26.9,"y":-19.5},{"poly":"arc7","level":0.007,"x":-23,"y":-20},{"poly":"arc7","level":0.007,"x":-21,"y":-22.1},{"poly":"arc7","level":0.007,"x":-22.3,"y":-26.5},{"poly":"arc7","level":0.007,"x":-24.2,"y":-28.6},{"poly":"arc7","level":0.007,"x":-25.2,"y":-31.7},{"poly":"arc7","level":0.007,"x":-24.2,"y":-34.3},{"poly":"arc7","level":0.007,"x":-20.6,"y":-37.3},{"poly":"arc7","level":0.007,"x":-15.4,"y":-38.8},{"poly":"arc7","level":0.007,"x":-11.5,"y":-38.7},{"poly":"arc7","level":0.007,"x":-5.6,"y":-37.4},{"poly":"arc7","level":0.007,"x":-0.3,"y":-33},{"poly":"arc7","level":0.007,"x":2.7,"y":-30.4},{"poly":"arc7","level":0.007,"x":7.2,"y":-25.6},{"poly":"arc7","level":0.007,"x":12.5,"y":-20},{"poly":"arc7","level":0.007,"x":17.4,"y":-16.7},{"poly":"arc7","level":0.007,"x":17.5,"y":-19},{"poly":"arc7","level":0.007,"x":13.8,"y":-24.7},{"poly":"arc7","level":0.007,"x":9.9,"y":-28.6},{"poly":"arc7","level":0.007,"x":5.3,"y":-33},{"poly":"arc7","level":0.007,"x":-1.2,"y":-37.3},{"poly":"arc7","level":0.007,"x":-5.6,"y":-40.4},{"poly":"arc7","level":0.007,"x":-14.1,"y":-42.8},{"poly":"arc7","level":0.007,"x":-21.9,"y":-43.7},{"poly":"arc7","level":0.007,"x":-27.1,"y":-43},{"poly":"arc7","level":0.007,"x":-30.3,"y":-41.3},{"poly":"arc7","level":0.007,"x":-32.9,"y":-39},{"poly":"arc7","level":0.007,"x":-32.9,"y":-31.3},{"poly":"arc7","level":0.007,"x":-34.2,"y":-28.6},{"poly":"arc7","level":0.007,"x":-38.9,"y":-24.7},{"poly":"arc7","level":0.007,"x":-43.4,"y":-19.9},{"poly":"arc7","level":0.007,"x":-48,"y":-13.4},{"poly":"arc7","level":0.007,"x":-51.3,"y":-7.3},{"poly":"arc7","level":0.007,"x":-52.3,"y":-2.1},
{"poly":"ur8","level":0.008,"x":50.7,"y":21.4},{"poly":"ur8","level":0.008,"x":53,"y":21.4},{"poly":"ur8","level":0.008,"x":56,"y":17.2},{"poly":"ur8","level":0.008,"x":55,"y":16.2},{"poly":"ur8","level":0.008,"x":52,"y":18.6},{"poly":"ur8","level":0.008,"x":50.5,"y":20.5},
{"poly":"band8","level":0.008,"x":-17.3,"y":37.8},{"poly":"band8","level":0.008,"x":-14.7,"y":36.2},{"poly":"band8","level":0.008,"x":-9.5,"y":37.9},{"poly":"band8","level":0.008,"x":-4.9,"y":40.1},{"poly":"band8","level":0.008,"x":-0.3,"y":42.1},{"poly":"band8","level":0.008,"x":0.7,"y":43},{"poly":"band8","level":0.008,"x":2,"y":45},{"poly":"band8","level":0.008,"x":0.7,"y":46.2},{"poly":"band8","level":0.008,"x":-1.2,"y":47.1},{"poly":"band8","level":0.008,"x":-5.6,"y":47},{"poly":"band8","level":0.008,"x":-9.5,"y":45.8},{"poly":"band8","level":0.008,"x":-13.4,"y":42.8},{"poly":"band8","level":0.008,"x":-16,"y":40.1},
{"poly":"se8","level":0.008,"x":41.2,"y":-29.5},{"poly":"se8","level":0.008,"x":43.2,"y":-28},{"poly":"se8","level":0.008,"x":45,"y":-31.5},{"poly":"se8","level":0.008,"x":44.8,"y":-33.4},{"poly":"se8","level":0.008,"x":42.9,"y":-34.7},{"poly":"se8","level":0.008,"x":40.9,"y":-33},
{"poly":"ne8a","level":0.008,"x":24.9,"y":18.8},{"poly":"ne8a","level":0.008,"x":27.5,"y":17.1},{"poly":"ne8a","level":0.008,"x":30.1,"y":12.7},{"poly":"ne8a","level":0.008,"x":31.8,"y":8.4},{"poly":"ne8a","level":0.008,"x":31,"y":4.9},{"poly":"ne8a","level":0.008,"x":29.5,"y":10.1},{"poly":"ne8a","level":0.008,"x":26.9,"y":15.3},
{"poly":"ne8b","level":0.008,"x":30.8,"y":1.4},{"poly":"ne8b","level":0.008,"x":31.2,"y":-0.4},{"poly":"ne8b","level":0.008,"x":32.4,"y":-5.6},{"poly":"ne8b","level":0.008,"x":31.8,"y":-10.4},{"poly":"ne8b","level":0.008,"x":29.5,"y":-15.2},{"poly":"ne8b","level":0.008,"x":28.5,"y":-15.6},{"poly":"ne8b","level":0.008,"x":26.2,"y":-13},{"poly":"ne8b","level":0.008,"x":25,"y":-10},{"poly":"ne8b","level":0.008,"x":26.2,"y":-7.3},{"poly":"ne8b","level":0.008,"x":29.5,"y":-1.7},
{"poly":"west8","level":0.008,"x":-37.2,"y":-23},{"poly":"west8","level":0.008,"x":-33.6,"y":-22.5},{"poly":"west8","level":0.008,"x":-29,"y":-22.3},{"poly":"west8","level":0.008,"x":-25.5,"y":-21.4},{"poly":"west8","level":0.008,"x":-23.3,"y":-23.4},{"poly":"west8","level":0.008,"x":-25.8,"y":-29},{"poly":"west8","level":0.008,"x":-26.5,"y":-33.4},{"poly":"west8","level":0.008,"x":-23.9,"y":-38.6},{"poly":"west8","level":0.008,"x":-19.3,"y":-40},{"poly":"west8","level":0.008,"x":-14.1,"y":-41},{"poly":"west8","level":0.008,"x":-20.6,"y":-42.1},{"poly":"west8","level":0.008,"x":-26.5,"y":-41.7},{"poly":"west8","level":0.008,"x":-29.7,"y":-40.4},{"poly":"west8","level":0.008,"x":-31.7,"y":-38.7},{"poly":"west8","level":0.008,"x":-32,"y":-32.5},{"poly":"west8","level":0.008,"x":-31.7,"y":-29.1},{"poly":"west8","level":0.008,"x":-35,"y":-26},
{"poly":"arc8","level":0.008,"x":-11.4,"y":-38.8},{"poly":"arc8","level":0.008,"x":-7.2,"y":-38.8},{"poly":"arc8","level":0.008,"x":-4.9,"y":-36.9},{"poly":"arc8","level":0.008,"x":-0.3,"y":-34.3},{"poly":"arc8","level":0.008,"x":4.6,"y":-31.3},{"poly":"arc8","level":0.008,"x":4.3,"y":-33},{"poly":"arc8","level":0.008,"x":2.7,"y":-33.9},{"poly":"arc8","level":0.008,"x":-1.2,"y":-36.7},{"poly":"arc8","level":0.008,"x":-3.6,"y":-38.2},{"poly":"arc8","level":0.008,"x":-6.9,"y":-39.5},{"poly":"arc8","level":0.008,"x":-10.8,"y":-39.4},
{"poly":"band9","level":0.009,"x":-14.7,"y":39},{"poly":"band9","level":0.009,"x":-12.4,"y":38},{"poly":"band9","level":0.009,"x":-8.8,"y":38.6},{"poly":"band9","level":0.009,"x":-4.2,"y":41},{"poly":"band9","level":0.009,"x":-0.7,"y":43.2},{"poly":"band9","level":0.009,"x":0.1,"y":45},{"poly":"band9","level":0.009,"x":-1.2,"y":45.4},{"poly":"band9","level":0.009,"x":-4.9,"y":45.9},{"poly":"band9","level":0.009,"x":-7.5,"y":45.7},{"poly":"band9","level":0.009,"x":-11.4,"y":42.9},
{"poly":"west9","level":0.009,"x":-29.7,"y":-25.2},{"poly":"west9","level":0.009,"x":-27.1,"y":-23.7},{"poly":"west9","level":0.009,"x":-24.2,"y":-23.9},{"poly":"west9","level":0.009,"x":-25.8,"y":-28.2},{"poly":"west9","level":0.009,"x":-26.5,"y":-31.2},{"poly":"west9","level":0.009,"x":-26.2,"y":-35.2},{"poly":"west9","level":0.009,"x":-23.8,"y":-39},{"poly":"west9","level":0.009,"x":-27.2,"y":-39.8},{"poly":"west9","level":0.009,"x":-29.1,"y":-38.8},{"poly":"west9","level":0.009,"x":-30.3,"y":-37.3},{"poly":"west9","level":0.009,"x":-30.3,"y":-33.4},{"poly":"west9","level":0.009,"x":-29.7,"y":-29.1},{"poly":"west9","level":0.009,"x":-30.1,"y":-26.9},
{"poly":"ne9","level":0.009,"x":27.4,"y":-8.9},{"poly":"ne9","level":0.009,"x":28.8,"y":-6},{"poly":"ne9","level":0.009,"x":30.7,"y":-7},{"poly":"ne9","level":0.009,"x":30.1,"y":-9.5},{"poly":"ne9","level":0.009,"x":29.1,"y":-11.5},{"poly":"ne9","level":0.009,"x":27.8,"y":-10.8},
{"poly":"band10","level":0.01,"x":-11.1,"y":41},{"poly":"band10","level":0.01,"x":-9.2,"y":43.1},{"poly":"band10","level":0.01,"x":-7.2,"y":43.4},{"poly":"band10","level":0.01,"x":-6.1,"y":43},{"poly":"band10","level":0.01,"x":-7.8,"y":42.5},{"poly":"band10","level":0.01,"x":-9.5,"y":41.5}
]},"mark":{"type":"line","filled":true,"strokeWidth":0,"clip":true,"order":false},"encoding":{"x":{"field":"x","type":"quantitative","scale":{"domain":[-59,59],"nice":false,"zero":false},"axis":{"orient":"bottom","values":[-50,-40,-30,-20,-10,0,10,20,30,40,50],"labelExpr":"datum.value % 20 === 0 ? datum.label : ''","title":"X (KM)","grid":false,"tickSize":8,"tickColor":"black","domainColor":"black","domainWidth":1.5,"labelColor":"black","labelFont":"DejaVu Sans","labelFontSize":10.5,"labelPadding":4,"labelFlush":false,"labelOverlap":false,"titleFont":"DejaVu Sans","titleFontSize":12,"titleFontWeight":"normal","titleColor":"black","titlePadding":11}},"y":{"field":"y","type":"quantitative","scale":{"domain":[-59,59],"nice":false,"zero":false},"axis":{"orient":"left","values":[-50,-40,-30,-20,-10,0,10,20,30,40,50],"labelExpr":"datum.value % 20 === 0 ? datum.label : ''","title":"Y (KM)","grid":false,"tickSize":8,"tickColor":"black","domainColor":"black","domainWidth":1.5,"labelColor":"black","labelFont":"DejaVu Sans","labelFontSize":10.5,"labelPadding":5,"labelOverlap":false,"titleFont":"DejaVu Sans","titleFontSize":12,"titleFontWeight":"normal","titleColor":"black","titlePadding":8}},"detail":{"field":"poly"},"color":{"field":"level","type":"ordinal","legend":null,"scale":{"domain":[0,0.001,0.002,0.003,0.004,0.005,0.006,0.007,0.008,0.009,0.01,0.011,0.012,0.013,0.014],"range":["#000080","#7f00b0","#5f00d8","#0000ff","#0066ff","#00c4ff","#1fffe6","#60ffa0","#a0ff60","#e0ff20","#ffcc00","#ff8000","#ff3300","#e00000","#990000"]}}}},
{"data":{"values":[{"x":-49.2,"y":71.8,"label":"Z (KM) : 5.023"}]},"mark":{"type":"text","font":"DejaVu Sans","fontSize":14.5,"color":"black"},"encoding":{"x":{"field":"x","type":"quantitative","scale":{"domain":[-59,59],"nice":false,"zero":false},"axis":{"orient":"top","values":[-50,-40,-30,-20,-10,0,10,20,30,40,50],"labels":false,"title":null,"grid":false,"tickSize":8,"tickColor":"black","domainColor":"black","domainWidth":1.5}},"y":{"field":"y","type":"quantitative","scale":{"domain":[-59,59],"nice":false,"zero":false},"axis":{"orient":"right","values":[-50,-40,-30,-20,-10,0,10,20,30,40,50],"labels":false,"title":null,"grid":false,"tickSize":8,"tickColor":"black","domainColor":"black","domainWidth":1.5}},"text":{"field":"label"}}},
{"data":{"values":[{"x":0,"y":-78.6,"label":"Water Vapor Density"}]},"mark":{"type":"text","font":"DejaVu Sans","fontSize":22.4,"fontWeight":"lighter","color":"#222222"},"encoding":{"x":{"field":"x","type":"quantitative","scale":{"domain":[-59,59],"nice":false,"zero":false},"axis":null},"y":{"field":"y","type":"quantitative","scale":{"domain":[-59,59],"nice":false,"zero":false},"axis":null},"text":{"field":"label"}}}]},
{"width":20,"height":452,"data":{"values":[{"level":0,"hi":0.001},{"level":0.001,"hi":0.002},{"level":0.002,"hi":0.003},{"level":0.003,"hi":0.004},{"level":0.004,"hi":0.005},{"level":0.005,"hi":0.006},{"level":0.006,"hi":0.007},{"level":0.007,"hi":0.008},{"level":0.008,"hi":0.009},{"level":0.009,"hi":0.01},{"level":0.01,"hi":0.011},{"level":0.011,"hi":0.012},{"level":0.012,"hi":0.013},{"level":0.013,"hi":0.014},{"level":0.014,"hi":0.015}]},"mark":{"type":"rect","stroke":"black","strokeWidth":1},"encoding":{"y":{"field":"level","type":"quantitative","scale":{"domain":[0,0.015],"nice":false,"zero":false},"axis":{"orient":"right","title":null,"values":[0,0.001,0.002,0.003,0.004,0.005,0.006,0.007,0.008,0.009,0.01,0.011,0.012,0.013,0.014,0.015],"format":"~g","grid":false,"ticks":false,"domain":false,"labelColor":"black","labelFont":"DejaVu Sans","labelFontSize":8.5,"labelPadding":4,"labelFlush":false,"labelOverlap":false}},"y2":{"field":"hi"},"color":{"field":"level","type":"ordinal","legend":null,"scale":{"domain":[0,0.001,0.002,0.003,0.004,0.005,0.006,0.007,0.008,0.009,0.01,0.011,0.012,0.013,0.014],"range":["#000080","#7f00b0","#5f00d8","#0000ff","#0066ff","#00c4ff","#1fffe6","#60ffa0","#a0ff60","#e0ff20","#ffcc00","#ff8000","#ff3300","#e00000","#990000"]}}}}]}
